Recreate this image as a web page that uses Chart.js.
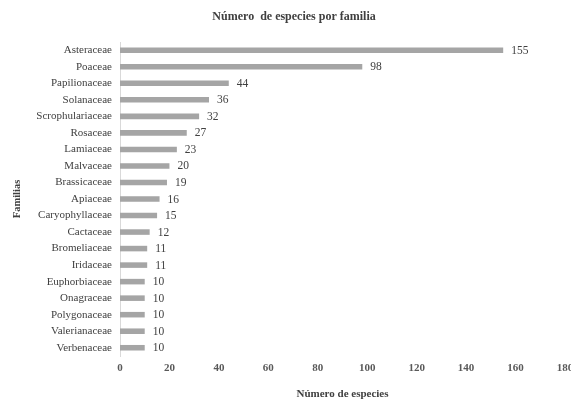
<!DOCTYPE html>
<html><head><meta charset="utf-8">
<script src="https://cdn.jsdelivr.net/npm/chart.js@4"></script>
<style>html,body{margin:0;padding:0;background:#fff;overflow:hidden}#w{width:571px;height:402px}</style>
</head><body><div id="w"><canvas id="c"></canvas></div>
<script>
const categories = ["Asteraceae","Poaceae","Papilionaceae","Solanaceae","Scrophulariaceae","Rosaceae","Lamiaceae","Malvaceae","Brassicaceae","Apiaceae","Caryophyllaceae","Cactaceae","Bromeliaceae","Iridaceae","Euphorbiaceae","Onagraceae","Polygonaceae","Valerianaceae","Verbenaceae"];
const especies = [155,98,44,36,32,27,23,20,19,16,15,12,11,11,10,10,10,10,10];
const xTicks = [0,20,40,60,80,100,120,140,160,180];
const chartTitle = 'Número  de especies por familia';

const valueLabels = {
  id: 'valueLabels',
  afterDatasetsDraw(chart) {
    const ctx = chart.ctx;
    const meta = chart.getDatasetMeta(0);
    ctx.save();
    ctx.font = '11.5px "Liberation Serif", "Times New Roman", serif';
    ctx.fillStyle = '#404040';
    ctx.textAlign = 'left';
    ctx.textBaseline = 'middle';
    meta.data.forEach((bar, i) => {
      ctx.fillText(String(especies[i]), bar.x + 8, bar.y + 0.5);
    });
    ctx.restore();
  }
};

const titlePlugin = {
  id: 'offsetTitle',
  afterDraw(chart) {
    const ctx = chart.ctx;
    ctx.save();
    ctx.font = 'bold 12px "Liberation Serif", "Times New Roman", serif';
    ctx.fillStyle = '#404040';
    ctx.textAlign = 'center';
    ctx.textBaseline = 'middle';
    ctx.fillText(chartTitle, chart.width * 0.515, 17);
    ctx.restore();
  }
};

Chart.defaults.font.family = '"Liberation Serif", "Times New Roman", serif';
Chart.defaults.color = '#404040';

new Chart(document.getElementById('c'), {
  type: 'bar',
  data: {
    labels: categories,
    datasets: [{
      data: especies,
      backgroundColor: '#a5a5a5',
      categoryPercentage: 0.7,
      barPercentage: 0.48
    }]
  },
  options: {
    indexAxis: 'y',
    responsive: true,
    maintainAspectRatio: false,
    animation: false,
    layout: { padding: { left: 0, right: 0, top: 42, bottom: 0 } },
    plugins: {
      legend: { display: false },
      tooltip: { enabled: false },
      title: { display: false }
    },
    scales: {
      x: {
        min: 0, max: 180,
        afterBuildTicks: s => { s.ticks = xTicks.map(v => ({ value: v })); },
        grid: { display: false, drawTicks: false },
        border: { display: false },
        ticks: { font: { size: 11, weight: 'bold' }, color: '#595959', padding: 6, maxRotation: 0 },
        title: { display: true, text: 'Número de especies', font: { size: 11, weight: 'bold' }, color: '#404040', padding: { top: 8, bottom: 1 } },
        afterFit: s => { s.paddingRight = 6; s.paddingLeft = 0; s.height = 46; }
      },
      y: {
        grid: { display: false, drawTicks: false },
        border: { display: true, color: '#d9d9d9' },
        ticks: { font: { size: 11 }, color: '#404040', padding: 8, autoSkip: false },
        title: { display: true, text: 'Familias', font: { size: 10.5, weight: 'bold' }, color: '#404040', padding: { top: 11, bottom: 0 } },
        afterFit: s => { s.width = 120; s.paddingTop = 0; s.paddingBottom = 0; }
      }
    }
  },
  plugins: [valueLabels, titlePlugin]
});
</script></body></html>
